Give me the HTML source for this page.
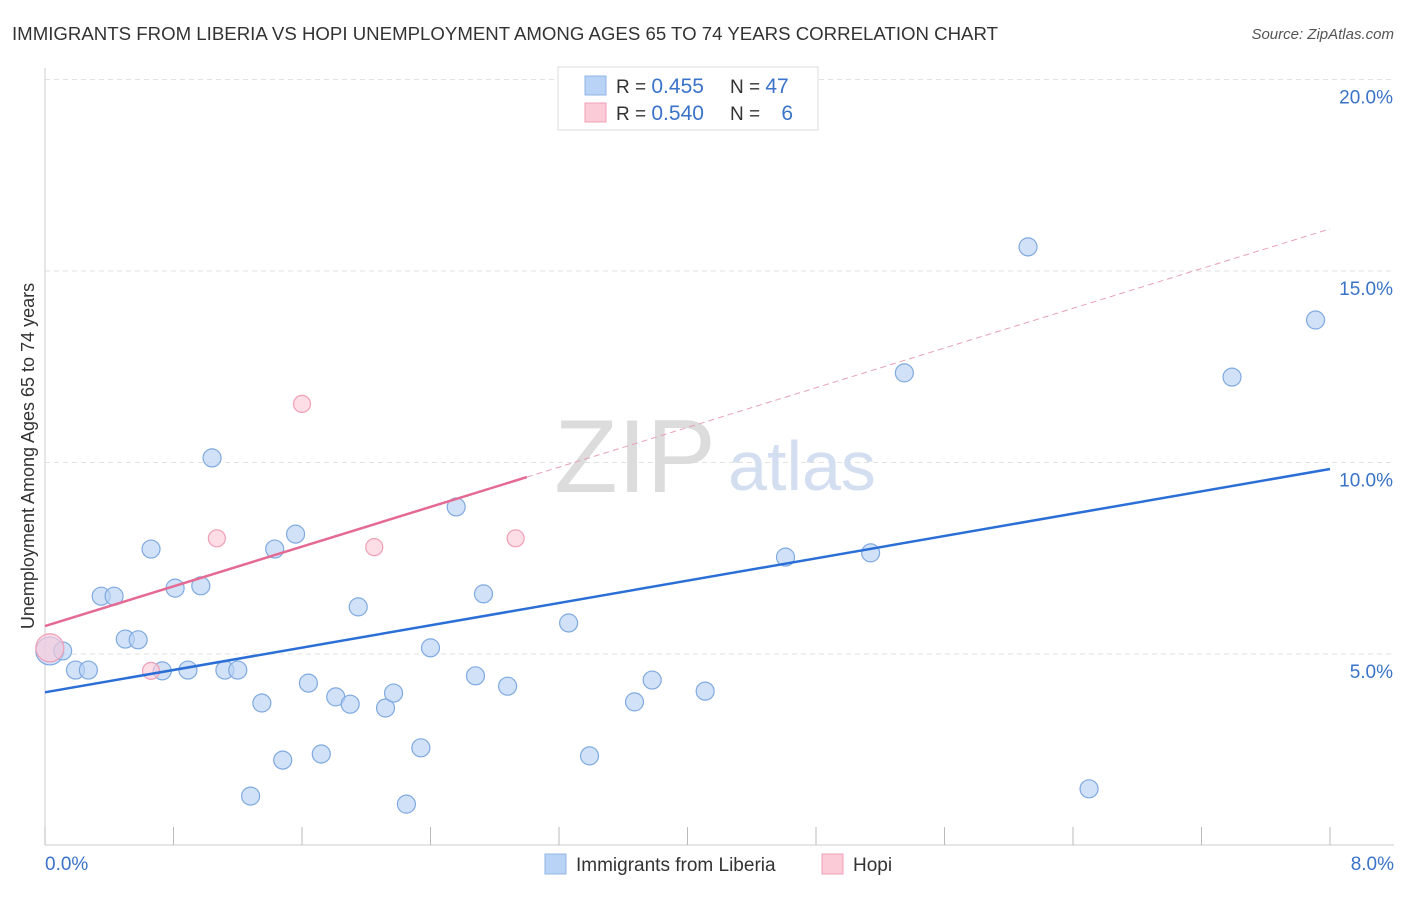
<!DOCTYPE html>
<html><head><meta charset="utf-8"><style>
body{margin:0;background:#fff;font-family:"Liberation Sans",sans-serif;}
svg text{font-family:"Liberation Sans",sans-serif;}
</style></head><body>
<svg id="c" width="1406" height="892" xmlns="http://www.w3.org/2000/svg">
<text x="12" y="40" font-size="18" fill="#333" textLength="986" lengthAdjust="spacingAndGlyphs">IMMIGRANTS FROM LIBERIA VS HOPI UNEMPLOYMENT AMONG AGES 65 TO 74 YEARS CORRELATION CHART</text>
<text x="1394" y="39" font-size="15" fill="#555" font-style="italic" text-anchor="end">Source: ZipAtlas.com</text>
<g id="grid"></g>
<text x="635" y="492" font-size="104" fill="#dcdcdc" font-family="Liberation Serif" text-anchor="middle">ZIP</text>
<text x="802" y="490" font-size="70" fill="#d3def0" text-anchor="middle">atlas</text>
<text transform="translate(34,456) rotate(-90)" font-size="18" fill="#333" text-anchor="middle">Unemployment Among Ages 65 to 74 years</text>
<g id="marks"></g>
<g>
<rect x="558" y="67" width="260" height="63" fill="#fff" stroke="#ddd"/>
<rect x="585" y="76" width="21" height="19" fill="#b8d3f5" stroke="#8fb4e6"/>
<rect x="585" y="103" width="21" height="19" fill="#fccbd8" stroke="#f0a0b8"/>
<text x="616" y="93" font-size="19" fill="#333">R = <tspan fill="#3a73c8" font-size="21">0.455</tspan></text>
<text x="730" y="93" font-size="19" fill="#333">N = <tspan fill="#3a73c8" font-size="21">47</tspan></text>
<text x="616" y="120" font-size="19" fill="#333">R = <tspan fill="#3a73c8" font-size="21">0.540</tspan></text>
<text x="730" y="120" font-size="19" fill="#333">N = <tspan fill="#3a73c8" font-size="21" dx="16">6</tspan></text>
</g>
<g>
<rect x="545" y="854" width="21" height="20" fill="#b8d3f5" stroke="#8fb4e6"/>
<text x="576" y="871" font-size="19" fill="#333">Immigrants from Liberia</text>
<rect x="822" y="854" width="21" height="20" fill="#fccbd8" stroke="#f0a0b8"/>
<text x="853" y="871" font-size="19" fill="#333">Hopi</text>
</g>
</svg>
<script>
const blueX=[0.03,0.11,0.19,0.27,0.35,0.43,0.50,0.58,0.66,0.73,0.81,0.89,0.97,1.04,1.12,1.20,1.35,1.43,1.48,1.56,1.64,1.72,1.81,1.90,1.95,2.12,2.17,2.25,2.34,2.40,2.56,2.68,2.73,2.88,3.26,3.39,3.67,3.78,4.11,4.61,5.14,5.35,6.12,6.50,7.39,7.91,1.28];
const blueY=[5.08,5.08,4.58,4.58,6.51,6.51,5.39,5.37,7.74,4.56,6.72,4.58,6.78,10.12,4.58,4.58,3.72,7.74,2.23,8.13,4.24,2.39,3.88,3.69,6.23,3.59,3.98,1.08,2.55,5.16,8.84,4.43,6.57,4.16,5.81,2.34,3.75,4.32,4.03,7.53,7.64,12.34,15.63,1.48,12.23,13.72,1.29];
const pinkX=[0.03,0.66,1.07,1.60,2.05,2.93];
const pinkY=[5.16,4.56,8.02,11.53,7.79,8.02];
const blueTrend=[4.0,9.83];
const pinkTrend=[5.73,16.1];
const pinkSolidEnd=3.0;
const yTicks=[5,10,15,20];
const xTickLabels=["0.0%","8.0%"];
const X=v=>45+v/8*1285, Y=v=>845.5-v*38.3;
const NS="http://www.w3.org/2000/svg";
function mk(p,t,a){const e=document.createElementNS(NS,t);for(const k in a)e.setAttribute(k,a[k]);p.appendChild(e);return e;}
const g=document.getElementById('grid'), m=document.getElementById('marks');
yTicks.forEach(t=>{
 const l=mk(g,'line',{x1:45,x2:1394,y1:Y(t),y2:Y(t),stroke:'#e2e2e2','stroke-dasharray':'5,4'});
 
 
 const tx=mk(g,'text',{x:1393,y:Y(t)+24,'font-size':19,fill:'#3a73c8','text-anchor':'end'});tx.textContent=t.toFixed(1)+'%';
 
 
});
const ax=mk(g,'line',{x1:45,x2:45,y1:68,y2:845,stroke:'#ccc'});


const bx=mk(g,'line',{x1:45,x2:1394,y1:845,y2:845,stroke:'#ccc'});


for(let i=0;i<=10;i++){const t=mk(g,'line',{x1:X(i*0.8),x2:X(i*0.8),y1:827,y2:845,stroke:'#bbb'});
 
 }
[[0,'start',45],[8,'end',1394]].forEach((d,i)=>{const t=mk(g,'text',{x:d[2],y:870,'font-size':19,fill:'#3a73c8','text-anchor':d[1]});t.textContent=xTickLabels[i];
 
 });
function pt(x,y,r,fill,stroke,name){const c=mk(m,'circle',{cx:X(x),cy:Y(y),r:r,fill:fill,stroke:stroke,'stroke-width':1.2});
 
 }
blueX.forEach((x,i)=>pt(x,blueY[i],i==0?14:9,'rgba(184,211,245,0.65)','#7fa9e0','liberia-point'));
pinkX.forEach((x,i)=>pt(x,pinkY[i],i==0?14:8.5,'rgba(252,203,216,0.65)','#ee9fb6','hopi-point'));
const bl=mk(m,'line',{x1:X(0),y1:Y(blueTrend[0]),x2:X(8),y2:Y(blueTrend[1]),stroke:'#2b6fd6','stroke-width':2.5});


const py=v=>pinkTrend[0]+(pinkTrend[1]-pinkTrend[0])*v/8;
const pl=mk(m,'line',{x1:X(0),y1:Y(py(0)),x2:X(pinkSolidEnd),y2:Y(py(pinkSolidEnd)),stroke:'#e46a93','stroke-width':2.5});


const pd=mk(m,'line',{x1:X(pinkSolidEnd),y1:Y(py(pinkSolidEnd)),x2:X(8),y2:Y(py(8)),stroke:'#e8a0b8','stroke-width':1,'stroke-dasharray':'6,4'});


</script>
</body></html>
